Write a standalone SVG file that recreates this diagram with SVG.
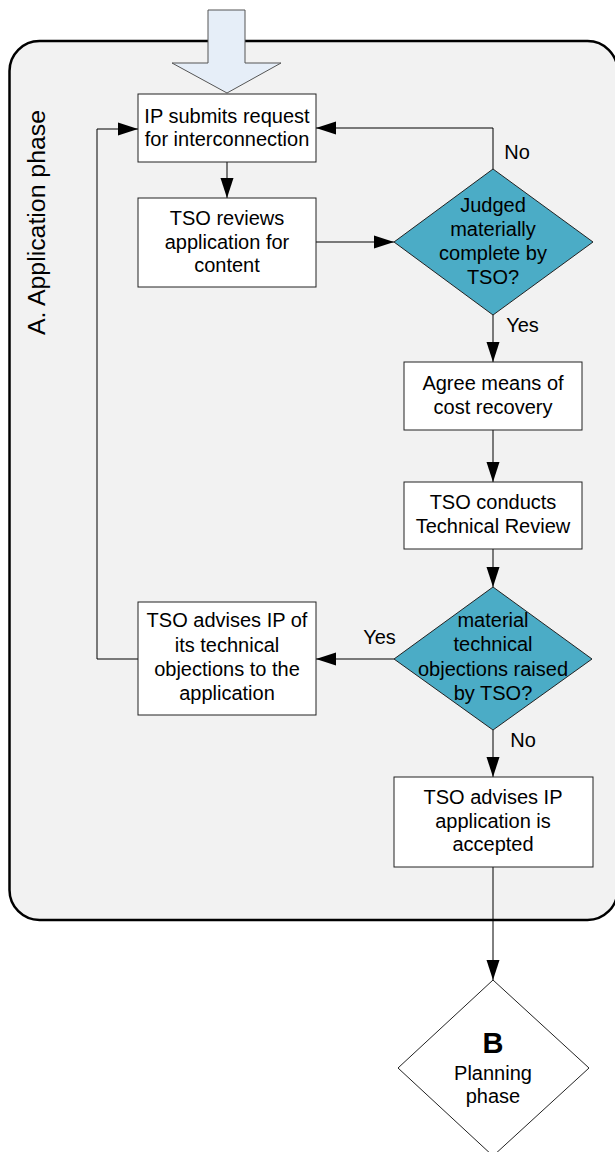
<svg xmlns="http://www.w3.org/2000/svg" width="615" height="1152" viewBox="0 0 615 1152">
<defs>
<style>
.box{fill:#fff;stroke:#222;stroke-width:1}
.dec{fill:#4BACC6;stroke:#222;stroke-width:1}
.t{font-family:"Liberation Sans",Arial,sans-serif;font-size:20px;fill:#000;text-anchor:middle}
.c{fill:none;stroke:#000;stroke-width:1}
</style>
<marker id="ah" markerUnits="userSpaceOnUse" markerWidth="20" markerHeight="14" refX="20" refY="7" orient="auto">
<path d="M0,0.5 L20,7 L0,13.5 Z" fill="#000"/>
</marker>
</defs>
<rect width="615" height="1152" fill="#fff"/>
<g id="container">
<rect x="9.5" y="41" width="608" height="879" rx="30" ry="30" fill="#F2F2F2" stroke="#000" stroke-width="2.5"/>
<text class="t" transform="translate(45,222.5) rotate(-90)" x="0" y="0" style="font-size:23px" textLength="225" lengthAdjust="spacingAndGlyphs">A. Application phase</text>
</g>
<g id="entry">
<polygon points="208,10 245,10 245,63 281,63 227,93 172,63 208,63" fill="#E6EEF8" stroke="#555" stroke-width="1"/>
</g>
<g id="connectors">
<path class="c" d="M227,162 V198" marker-end="url(#ah)"/>
<path class="c" d="M316,242 H394" marker-end="url(#ah)"/>
<path class="c" d="M493,169 V128 H316" marker-end="url(#ah)"/>
<path class="c" d="M493,315 V362" marker-end="url(#ah)"/>
<path class="c" d="M493,430 V482" marker-end="url(#ah)"/>
<path class="c" d="M493,549 V587" marker-end="url(#ah)"/>
<path class="c" d="M394,659 H316" marker-end="url(#ah)"/>
<path class="c" d="M138,659 H97 V129 H138" marker-end="url(#ah)"/>
<path class="c" d="M493,730 V777" marker-end="url(#ah)"/>
<path class="c" d="M493,867 V980" marker-end="url(#ah)"/>
<text class="t" x="517" y="159">No</text>
<text class="t" x="522.5" y="332">Yes</text>
<text class="t" x="379.5" y="644">Yes</text>
<text class="t" x="523" y="747">No</text>
</g>
<g id="n1">
<rect class="box" x="138" y="94" width="178" height="68"/>
<text class="t" x="227" y="123">IP submits request</text>
<text class="t" x="227" y="146">for interconnection</text>
</g>
<g id="n2">
<rect class="box" x="138" y="198" width="178" height="89"/>
<text class="t" x="227" y="225">TSO reviews</text>
<text class="t" x="227" y="248.5">application for</text>
<text class="t" x="227" y="272">content</text>
</g>
<g id="d1">
<polygon class="dec" points="493,169 593,242 493,315 394,242"/>
<text class="t" x="493" y="212">Judged</text>
<text class="t" x="493" y="235.5">materially</text>
<text class="t" x="493" y="259.5">complete by</text>
<text class="t" x="493" y="283.5">TSO?</text>
</g>
<g id="n3">
<rect class="box" x="404" y="362" width="178" height="68"/>
<text class="t" x="493" y="390">Agree means of</text>
<text class="t" x="493" y="414">cost recovery</text>
</g>
<g id="n4">
<rect class="box" x="404" y="482" width="178" height="67"/>
<text class="t" x="493" y="509">TSO conducts</text>
<text class="t" x="493" y="532.5">Technical Review</text>
</g>
<g id="d2">
<polygon class="dec" points="493,587 592,659 493,730 394,659"/>
<text class="t" x="493" y="627">material</text>
<text class="t" x="493" y="651">technical</text>
<text class="t" x="493" y="676">objections raised</text>
<text class="t" x="493" y="700">by TSO?</text>
</g>
<g id="n5">
<rect class="box" x="138" y="602" width="178" height="113"/>
<text class="t" x="227" y="627">TSO advises IP of</text>
<text class="t" x="227" y="651.5">its technical</text>
<text class="t" x="227" y="676">objections to the</text>
<text class="t" x="227" y="700">application</text>
</g>
<g id="n6">
<rect class="box" x="394" y="777" width="199" height="90"/>
<text class="t" x="493" y="803.5">TSO advises IP</text>
<text class="t" x="493" y="827.5">application is</text>
<text class="t" x="493" y="851">accepted</text>
</g>
<g id="nB">
<polygon points="493,980 589,1068 493,1156 398,1068" fill="#fff" stroke="#222" stroke-width="1"/>
<text class="t" x="493" y="1053" style="font-size:29px;font-weight:bold">B</text>
<text class="t" x="493" y="1080">Planning</text>
<text class="t" x="493" y="1103">phase</text>
</g>
</svg>
